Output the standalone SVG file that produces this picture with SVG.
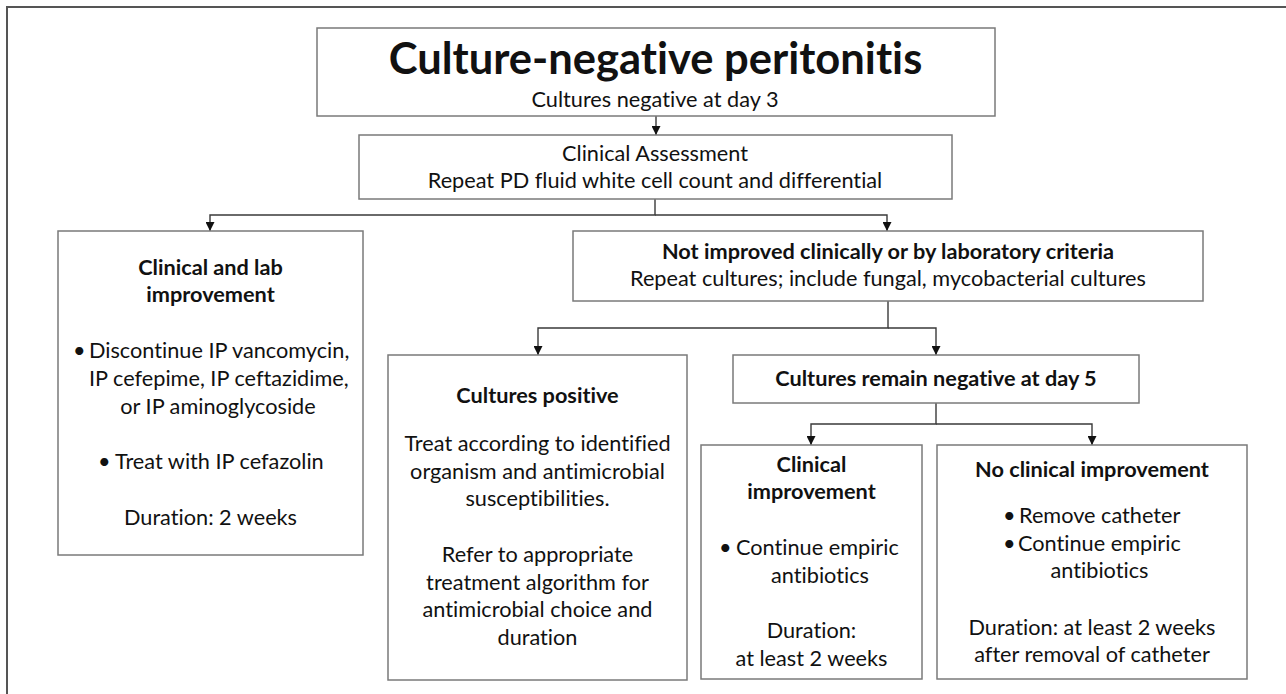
<svg xmlns="http://www.w3.org/2000/svg" width="1286" height="694" viewBox="0 0 1286 694">
<style>
.box{fill:#fff;stroke:#7a7a7a;stroke-width:1.5}
.con{fill:none;stroke:#3a3a3a;stroke-width:1.4}
text{font-family:Lato,"Liberation Sans",sans-serif;fill:#111;font-size:21.7px;font-variant-ligatures:none}
.b{font-weight:bold}
.m{text-anchor:middle}
.title{font-size:43.5px;font-weight:bold}
</style>
<defs>
<marker id="arr" viewBox="0 0 10 10" refX="10" refY="5" markerWidth="9" markerHeight="9" markerUnits="userSpaceOnUse" orient="auto">
<path d="M0,0 L10,5 L0,10 z" fill="#111"/>
</marker>
</defs>
<rect width="1286" height="694" fill="#fff"/>
<path d="M7,694 V7 H1286" fill="none" stroke="#555" stroke-width="2"/>

<g id="connectors">
<path class="con" d="M656,116 V135" marker-end="url(#arr)"/>
<path class="con" d="M655,199 V215 H210 V231" marker-end="url(#arr)"/>
<path class="con" d="M655,215 H887 V231" marker-end="url(#arr)"/>
<path class="con" d="M888,301 V328 H538 V355" marker-end="url(#arr)"/>
<path class="con" d="M888,328 H936 V355" marker-end="url(#arr)"/>
<path class="con" d="M936,403 V424 H811 V445" marker-end="url(#arr)"/>
<path class="con" d="M936,424 H1092 V445" marker-end="url(#arr)"/>
</g>

<g id="title">
<rect class="box" x="317" y="28" width="678" height="88"/>
<text class="title m" x="655.5" y="74">Culture-negative peritonitis</text>
<text class="m" x="655" y="107">Cultures negative at day 3</text>
</g>

<g id="assessment">
<rect class="box" x="359" y="135" width="593" height="64"/>
<text class="m" x="655" y="161">Clinical Assessment</text>
<text class="m" x="655" y="188">Repeat PD fluid white cell count and differential</text>
</g>

<g id="lab-improvement">
<rect class="box" x="58" y="231" width="305" height="324"/>
<text class="b m" x="210.5" y="275">Clinical and lab</text>
<text class="b m" x="210.5" y="302">improvement</text>
<text x="73" y="358">•</text>
<text x="89" y="358">Discontinue IP vancomycin,</text>
<text x="89" y="386">IP cefepime, IP ceftazidime,</text>
<text class="m" x="218" y="414">or IP aminoglycoside</text>
<text x="98" y="469">•</text>
<text x="115" y="469">Treat with IP cefazolin</text>
<text class="m" x="210.5" y="525">Duration: 2 weeks</text>
</g>

<g id="not-improved">
<rect class="box" x="573" y="231" width="630" height="70"/>
<text class="b m" x="888" y="259">Not improved clinically or by laboratory criteria</text>
<text class="m" x="888" y="286">Repeat cultures; include fungal, mycobacterial cultures</text>
</g>

<g id="cultures-positive">
<rect class="box" x="388" y="355" width="299" height="325"/>
<text class="b m" x="537.5" y="403">Cultures positive</text>
<text class="m" x="537.5" y="451">Treat according to identified</text>
<text class="m" x="537.5" y="479">organism and antimicrobial</text>
<text class="m" x="537.5" y="506">susceptibilities.</text>
<text class="m" x="537.5" y="562">Refer to appropriate</text>
<text class="m" x="537.5" y="590">treatment algorithm for</text>
<text class="m" x="537.5" y="617">antimicrobial choice and</text>
<text class="m" x="537.5" y="645">duration</text>
</g>

<g id="remain-negative">
<rect class="box" x="733" y="355" width="406" height="48"/>
<text class="b m" x="936" y="386">Cultures remain negative at day 5</text>
</g>

<g id="clinical-improvement">
<rect class="box" x="701" y="445" width="221" height="234"/>
<text class="b m" x="811.5" y="472">Clinical</text>
<text class="b m" x="811.5" y="499">improvement</text>
<text x="719" y="555">•</text>
<text x="736" y="555">Continue empiric</text>
<text class="m" x="820" y="583">antibiotics</text>
<text class="m" x="811.5" y="638">Duration:</text>
<text class="m" x="811.5" y="666">at least 2 weeks</text>
</g>

<g id="no-clinical-improvement">
<rect class="box" x="937" y="445" width="310" height="234"/>
<text class="b m" x="1092" y="477">No clinical improvement</text>
<text x="1003" y="523">•</text>
<text x="1019" y="523">Remove catheter</text>
<text x="1003" y="551">•</text>
<text x="1018" y="551">Continue empiric</text>
<text class="m" x="1099.5" y="578">antibiotics</text>
<text class="m" x="1092" y="635">Duration: at least 2 weeks</text>
<text class="m" x="1092" y="662">after removal of catheter</text>
</g>
</svg>
